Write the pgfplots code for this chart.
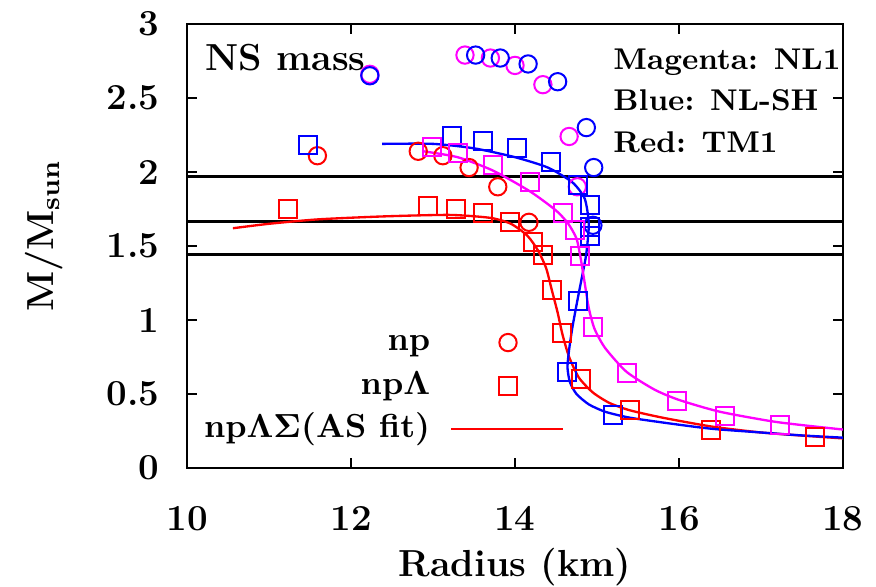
\documentclass[border=0pt]{standalone}
\usepackage{pgfplots}
\pgfplotsset{compat=1.18}
\definecolor{mag}{RGB}{255,0,255}
\definecolor{blu}{RGB}{0,0,255}
\definecolor{rd}{RGB}{255,0,0}
\pgfplotsset{
  legmark/.style={legend image code/.code={\path (0pt,0pt); \draw[##1] plot coordinates {(21pt,0pt)};}},
  legline/.style={legend image code/.code={\path (0pt,0pt); \draw[##1] (3.9pt,0pt) -- (37.5pt,0pt);}},
}
\begin{document}
\begin{tikzpicture}
\begin{axis}[
  name=ax,
  scale only axis, width=196.8pt, height=133.2pt,
  xmin=10, xmax=18, ymin=0, ymax=3,
  xtick={10,12,14,16,18}, ytick={0,0.5,1,1.5,2,2.5,3},
  tick align=inside, major tick length=3pt,
  axis line style={line width=0.7pt},
  every tick/.style={black, line width=0.7pt},
  /pgf/number format/assume math mode=true,
  tick label style={font=\fontsize{11}{13}\selectfont\bfseries},
  xticklabel style={anchor=base, yshift=-18.6pt},
  yticklabel style={anchor=east, inner sep=0pt, xshift=-8.1pt},
  label style={font=\fontsize{11.3}{13}\selectfont\bfseries},
  xlabel={Radius (km)}, ylabel={M/M\textsubscript{sun}},
  xlabel style={at={([yshift=-32.4pt]axis description cs:0.5,0)}, anchor=base},
  ylabel style={at={([xshift=-40pt,yshift=3pt]axis description cs:0,0.5)}, anchor=base},
  legend cell align=right, legend plot pos=right,
  legend style={draw=none, fill=none, at={(axis cs:14.73,0.066)}, anchor=south east,
    font=\fontsize{10}{12}\selectfont\bfseries, row sep=0pt,
    nodes={text height=7pt, text depth=2pt}},
]
% reference mass lines
\addplot[black, line width=0.9pt, forget plot] coordinates {(10,1.97) (18,1.97)};
\addplot[black, line width=0.9pt, forget plot] coordinates {(10,1.667) (18,1.667)};
\addplot[black, line width=0.9pt, forget plot] coordinates {(10,1.44) (18,1.44)};
% fits
\addplot[rd, line width=0.7pt, forget plot, smooth, tension=0.4] coordinates {
(10.56,1.62) (11.0,1.65) (11.6,1.68) (12.4,1.70) (13.2,1.71) (13.7,1.69) (13.95,1.65)
(14.15,1.57) (14.28,1.47) (14.38,1.35) (14.45,1.20) (14.52,1.05) (14.58,0.90)
(14.66,0.75) (14.78,0.61) (14.95,0.51) (15.15,0.44) (15.4,0.39) (15.8,0.34)
(16.4,0.28) (17.0,0.24) (17.6,0.215) (18.0,0.20)};
\addplot[blu, line width=0.7pt, forget plot, smooth, tension=0.4] coordinates {
(12.38,2.19) (13.0,2.19) (13.5,2.16) (14.0,2.10) (14.4,2.03) (14.7,1.93) (14.85,1.82)
(14.9,1.65) (14.87,1.45) (14.82,1.30) (14.76,1.13) (14.70,0.95) (14.66,0.80)
(14.64,0.68) (14.67,0.58) (14.75,0.50) (14.9,0.43) (15.1,0.38) (15.4,0.34)
(15.9,0.30) (16.4,0.265) (17.0,0.24) (17.5,0.22) (18.0,0.205)};
\addplot[mag, line width=0.7pt, forget plot, smooth, tension=0.4] coordinates {
(12.88,2.14) (13.3,2.10) (13.73,2.01) (14.18,1.87) (14.5,1.74) (14.65,1.65)
(14.75,1.55) (14.8,1.42) (14.85,1.25) (14.9,1.08) (14.97,0.94) (15.1,0.81)
(15.36,0.65) (15.7,0.53) (16.0,0.46) (16.5,0.38) (17.2,0.31) (18.0,0.26)};
% np circles
\addplot[mag, only marks, mark=o, mark size=2.6pt, line width=0.6pt, forget plot] coordinates {
(12.23,2.66) (13.39,2.79) (13.70,2.77) (14.00,2.72) (14.34,2.59) (14.66,2.24) (14.76,1.90)};
\addplot[blu, only marks, mark=o, mark size=2.6pt, line width=0.6pt, forget plot] coordinates {
(12.23,2.65) (13.52,2.79) (13.82,2.77) (14.16,2.73) (14.52,2.61) (14.87,2.30) (14.96,2.03) (14.95,1.64)};
\addplot[rd, only marks, mark=o, mark size=2.6pt, line width=0.6pt, forget plot] coordinates {
(11.59,2.11) (12.82,2.14) (13.12,2.11) (13.44,2.03) (13.79,1.90) (14.17,1.66)};
% np-Lambda squares
\addplot[blu, only marks, mark=square, mark size=2.7pt, line width=0.6pt, forget plot] coordinates {
(11.48,2.18) (13.23,2.24) (13.61,2.21) (14.02,2.16) (14.44,2.07) (14.77,1.91) (14.91,1.78)
(14.91,1.63) (14.91,1.57) (14.77,1.13) (14.63,0.65) (15.20,0.36) (16.39,0.26)};
\addplot[rd, only marks, mark=square, mark size=2.7pt, line width=0.6pt, forget plot] coordinates {
(11.23,1.75) (12.94,1.77) (13.28,1.75) (13.61,1.72) (13.94,1.66) (14.22,1.53) (14.34,1.44)
(14.45,1.20) (14.57,0.91) (14.80,0.60) (15.40,0.39) (16.39,0.26) (17.66,0.21)};
\addplot[mag, only marks, mark=square, mark size=2.7pt, line width=0.6pt, forget plot] coordinates {
(12.99,2.17) (13.30,2.13) (13.73,2.05) (14.18,1.93) (14.59,1.72) (14.73,1.61) (14.79,1.43)
(14.95,0.95) (15.36,0.64) (15.98,0.45) (16.56,0.35) (17.23,0.29)};
% legend
\addlegendimage{rd, only marks, mark=o, mark size=2.6pt, line width=0.6pt, legmark}
\addlegendentry{np}
\addlegendimage{rd, only marks, mark=square, mark size=2.7pt, line width=0.6pt, legmark}
\addlegendentry{np$\mathbf{\Lambda}$}
\addlegendimage{rd, line width=0.7pt, legline}
\addlegendentry{np$\mathbf{\Lambda\Sigma}$(AS fit)}
% annotations
\node[anchor=base west, font=\fontsize{11.3}{13}\selectfont\bfseries, inner sep=0pt]
  at (rel axis cs:0.027,0.896) {NS mass};
\node[anchor=north west, align=left, font=\fontsize{9}{12.4}\selectfont\bfseries, inner sep=0pt]
  at (rel axis cs:0.649,0.945) {Magenta: NL1\\Blue: NL-SH\\Red: TM1};
\end{axis}
\pgfresetboundingbox
\path ([xshift=-56.1pt,yshift=-35.4pt]ax.south west) rectangle ([xshift=9.9pt,yshift=7.2pt]ax.north east);
\end{tikzpicture}
\end{document}
